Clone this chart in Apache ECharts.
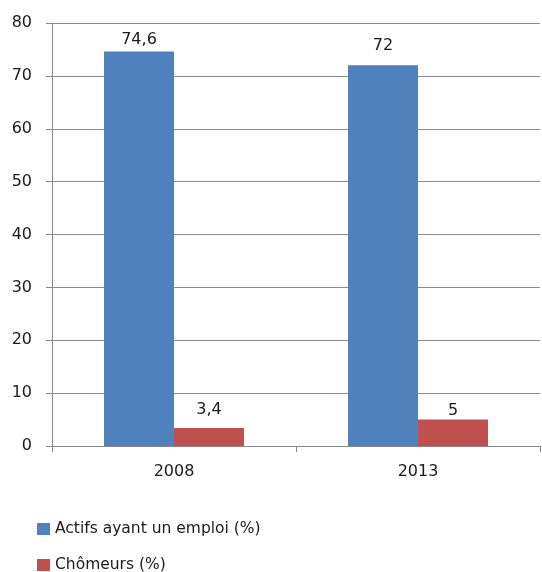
<!DOCTYPE html>
<html>
<head>
<meta charset="utf-8">
<script src="https://cdn.jsdelivr.net/npm/echarts@6/dist/echarts.min.js"></script>
<style>
html, body { margin: 0; padding: 0; background: #fff; }
#chart { width: 542px; height: 572px; }
</style>
</head>
<body>
<div id="chart"></div>
<script>
// Years on the category axis
const years = ['2008', '2013'];
// Share of people with a job, in percent
const actifsEmploi = [74.6, 72];
// Share of unemployed people, in percent
const chomeurs = [3.4, 5];
// Series names shown in the legend
const seriesNames = ['Actifs ayant un emploi (%)', 'Chômeurs (%)'];
// Value axis range
const yMin = 0, yMax = 80, yStep = 10;

const FONT = 'DejaVu Sans';
const TEXT = '#1a1a1a';
const frNumber = v => String(v).replace('.', ',');

// Gap between each bar top and its value label
const labelGaps = [[4, 11], [10, 1]];

const barData = (values, gaps) => values.map((v, i) => ({
  value: v,
  label: { distance: gaps[i] }
}));

const labelStyle = {
  show: true,
  position: 'top',
  color: TEXT,
  fontFamily: FONT,
  fontSize: 16,
  formatter: p => frNumber(p.value)
};

// One legend block per row, stacked below the plot
const legendRow = (name, top) => ({
  show: true,
  orient: 'horizontal',
  left: 37,
  top: top,
  padding: 0,
  itemWidth: 13,
  itemHeight: 12,
  icon: 'rect',
  data: [name],
  textStyle: { fontFamily: FONT, fontSize: 15.5, lineHeight: 18, color: TEXT }
});

const chart = echarts.init(document.getElementById('chart'), null, { renderer: 'canvas' });

chart.setOption({
  animation: false,
  backgroundColor: '#ffffff',
  grid: { left: 52, right: 2, top: 23, bottom: 126, containLabel: false },
  legend: [
    legendRow(seriesNames[0], 520),
    legendRow(seriesNames[1], 556)
  ],
  xAxis: {
    type: 'category',
    data: years,
    axisLine: { lineStyle: { color: '#868686', width: 1 } },
    axisTick: { show: true, length: 6, lineStyle: { color: '#868686' } },
    axisLabel: { margin: 18, color: TEXT, fontFamily: FONT, fontSize: 16 }
  },
  yAxis: {
    type: 'value',
    min: yMin,
    max: yMax,
    interval: yStep,
    axisLine: { show: true, lineStyle: { color: '#868686', width: 1 } },
    axisTick: { show: true, length: 6, lineStyle: { color: '#868686' } },
    axisLabel: { margin: 20, color: TEXT, fontFamily: FONT, fontSize: 16 },
    splitLine: { show: true, lineStyle: { color: '#8c8c8c', width: 1 } }
  },
  series: [
    {
      name: seriesNames[0],
      type: 'bar',
      data: barData(actifsEmploi, labelGaps[0]),
      barWidth: 70,
      barGap: '0%',
      itemStyle: { color: '#4f81bd' },
      label: labelStyle
    },
    {
      name: seriesNames[1],
      type: 'bar',
      data: barData(chomeurs, labelGaps[1]),
      barWidth: 70,
      barGap: '0%',
      itemStyle: { color: '#c0504d' },
      label: labelStyle
    }
  ]
});
</script>
</body>
</html>
